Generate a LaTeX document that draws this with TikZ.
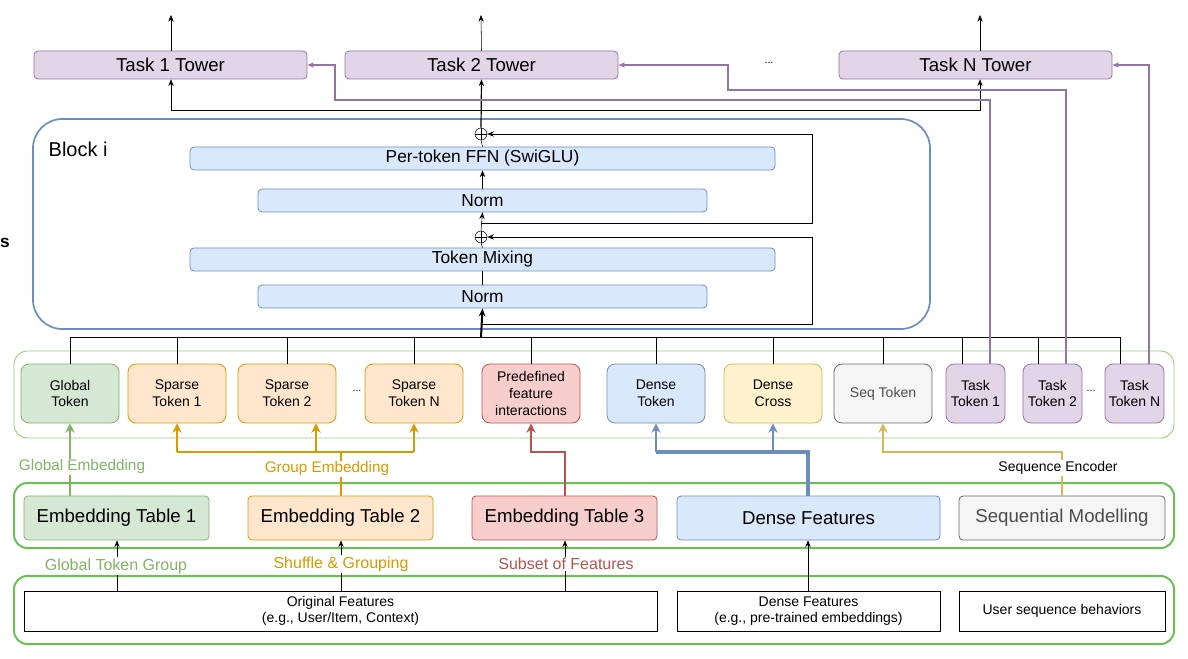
\documentclass[tikz,border=0pt]{standalone}
\usepackage{fontspec}
\setmainfont{Liberation Sans}
\usetikzlibrary{arrows.meta}
\definecolor{gF}{HTML}{D5E8D4}\definecolor{gS}{HTML}{82B366}
\definecolor{oF}{HTML}{FFE6CC}\definecolor{oS}{HTML}{D79B00}
\definecolor{rF}{HTML}{F8CECC}\definecolor{rS}{HTML}{B85450}
\definecolor{bF}{HTML}{DAE8FC}\definecolor{bS}{HTML}{6C8EBF}
\definecolor{yF}{HTML}{FFF2CC}\definecolor{yS}{HTML}{D6B656}
\definecolor{sF}{HTML}{F5F5F5}\definecolor{sS}{HTML}{666666}
\definecolor{pF}{HTML}{E1D5E7}\definecolor{pS}{HTML}{9673A6}
\definecolor{cS}{HTML}{97D077}
\tikzset{
 bx/.style={draw, rounded corners=3pt, inner sep=0pt, align=center, line width=0.6pt},
 tok/.style={bx, rounded corners=6pt, font=\fontsize{10.5}{12.5}\selectfont},
 big/.style={font=\fontsize{14}{16}\selectfont},
 mid/.style={font=\fontsize{13}{15}\selectfont},
 plain/.style={draw, inner sep=0pt, align=center, font=\fontsize{10.5}{12.5}\selectfont},
 arr/.style={-{Stealth[length=5pt,width=4pt]}},
 thk/.style={line width=2.2pt},
 tarr/.style={line width=2.2pt,-{Stealth[length=7pt,width=7pt]}},
 lbl/.style={fill=white, inner sep=1pt, font=\fontsize{11.5}{13}\selectfont},
 oplus/.style={circle, draw, inner sep=0pt, minimum size=9pt, path picture={\draw (path picture bounding box.north)--(path picture bounding box.south) (path picture bounding box.west)--(path picture bounding box.east);}},
}
\newcommand{\bxx}[7]{\pgfmathsetmacro\bxCX{(#2+#4)/2}\pgfmathsetmacro\bxCY{(#3+#5)/2}\pgfmathsetmacro\bxW{(#4-#2)*0.75}\pgfmathsetmacro\bxH{(#5-#3)*0.75}\node[#6, minimum width=\bxW pt, minimum height=\bxH pt] (#1) at (\bxCX,\bxCY) {#7};}
\begin{document}
\begin{tikzpicture}[x=0.75pt,y=-0.75pt]
\useasboundingbox (0,0) rectangle (1188,659);
% containers
\draw[cS, line width=0.7pt, rounded corners=10pt] (14,351) rectangle (1174,438);
\draw[gS!80!green, line width=1.5pt, rounded corners=10pt] (14,483) rectangle (1174,548);
\draw[gS!80!green, line width=1.5pt, rounded corners=10pt] (14,576) rectangle (1174,644);
% towers
\bxx{t1}{34}{51}{307}{79}{bx,fill=pF,draw=pS,big}{Task 1 Tower}
\bxx{t2}{345}{51}{618}{79}{bx,fill=pF,draw=pS,big}{Task 2 Tower}
\bxx{tn}{839}{51}{1112}{79}{bx,fill=pF,draw=pS,big}{Task N Tower}
\node[font=\fontsize{8}{9}\selectfont] (tdots) at (769,63) {...};
\coordinate (o1) at (171,15); \coordinate (o2) at (481,15); \coordinate (on) at (980,15);
\draw[arr] (t1.north -| o1) -- (o1);
\draw[arr] (t2.north) -- (o2);
\draw[arr] (tn.north -| on) -- (on);
% block
\draw[bS, line width=1.3pt, rounded corners=22pt] (33,119) rectangle (930,329);
\node[anchor=west, font=\fontsize{15}{17}\selectfont] (bl) at (44,149) {Block i};
\node[font=\bfseries\fontsize{13}{15}\selectfont] (s) at (5,243) {s};
\bxx{ffn}{190}{147}{775}{170}{bx,fill=bF,draw=bS,mid}{Per-token FFN (SwiGLU)}
\bxx{n2}{258}{189}{707}{212}{bx,fill=bF,draw=bS,mid}{Norm}
\bxx{tm}{190}{248}{775}{271}{bx,fill=bF,draw=bS,mid}{Token Mixing}
\bxx{n1}{258}{285}{707}{308}{bx,fill=bF,draw=bS,mid}{Norm}
\node[oplus] (p2) at (481,134) {};
\node[oplus] (p1) at (481,237) {};
\coordinate (bin) at (481,337);
\draw[line width=1.5pt,-{Stealth[length=6pt,width=5pt]}] (bin) -- (n1.south);
\draw (n1.north) -- (tm.south);
\draw (tm.north) -- (p1.south);
\draw[arr] (p1.north) -- (n2.south);
\draw[arr] (n2.north) -- (ffn.south);
\draw (ffn.north) -- (p2.south);
\draw[line width=0.9pt, arr] (p2.north) -- (t2.south);
\draw[arr] (481,324) -- (812,324) -- (812,237) -- (p1.east);
\draw[arr] (481,223) -- (812,223) -- (812,134) -- (p2.east);
\draw[arr] (481,110) -| (t1.south -| o1);
\draw[arr] (481,110) -| (tn.south -| on);
% tokens
\bxx{gt}{21}{364}{119}{423}{tok,fill=gF,draw=gS}{Global\\Token}
\bxx{s1}{128}{364}{226}{423}{tok,fill=oF,draw=oS}{Sparse\\Token 1}
\bxx{s2}{238}{364}{336}{423}{tok,fill=oF,draw=oS}{Sparse\\Token 2}
\node[font=\fontsize{8}{9}\selectfont] (sdots) at (357,391) {...};
\bxx{sn}{365}{364}{463}{423}{tok,fill=oF,draw=oS}{Sparse\\Token N}
\bxx{pf}{482}{364}{580}{423}{tok,fill=rF,draw=rS}{Predefined\\feature\\interactions}
\bxx{dt}{607}{364}{705}{423}{tok,fill=bF,draw=bS}{Dense\\Token}
\bxx{dc}{724}{364}{822}{423}{tok,fill=yF,draw=yS}{Dense\\Cross}
\bxx{sq}{834}{364}{932}{423}{tok,fill=sF,draw=sS,text=black!70}{Seq Token}
\bxx{k1}{946}{364}{1005}{423}{tok,fill=pF,draw=pS}{Task\\Token 1}
\bxx{k2}{1023}{364}{1082}{423}{tok,fill=pF,draw=pS}{Task\\Token 2}
\node[font=\fontsize{8}{9}\selectfont] (kdots) at (1091,391) {...};
\bxx{kn}{1105}{364}{1164}{423}{tok,fill=pF,draw=pS}{Task\\Token N}
% bus
\draw (70,337) -- (1120,337);
\foreach \n/\x in {gt/70,s1/177,s2/287,sn/414,pf/531,dt/656,dc/773,sq/883,k1/962,k2/1038,kn/1120}
  \draw (\x,337) -- (\n.north -| \x,0);
% purple task lines
\draw[pS, line width=1.3pt, arr] (k1.north -| 990,0) -- (990,100) -- (335,100) -- (335,65) -- (t1.east);
\draw[pS, line width=1.3pt, arr] (k2.north -| 1066,0) -- (1066,90) -- (728,90) -- (728,65) -- (t2.east);
\draw[pS, line width=1.3pt, arr] (kn.north -| 1149,0) -- (1149,65) -- (tn.east);
% embedding row
\bxx{e1}{24}{496}{209}{540}{bx,fill=gF,draw=gS,big}{Embedding Table 1}
\bxx{e2}{248}{496}{433}{540}{bx,fill=oF,draw=oS,big}{Embedding Table 2}
\bxx{e3}{472}{496}{657}{540}{bx,fill=rF,draw=rS,big}{Embedding Table 3}
\bxx{df}{677}{496}{940}{540}{bx,fill=bF,draw=bS,big}{Dense Features}
\bxx{sm}{959}{496}{1165}{540}{bx,fill=sF,draw=sS,big,text=black!70}{Sequential Modelling}
% token arrows
\draw[gS, tarr] (e1.north -| gt) -- (gt.south);
\node[gS, fill=white, inner sep=1pt, font=\fontsize{11.5}{13}\selectfont] (ge) at (82,467) {Global Embedding};
\draw[oS, thk] (e2.north -| 341,0) -- (341,452);
\draw[oS, thk] (177,452) -- (414,452);
\draw[oS, tarr] (177,452) -- (s1.south -| 177,0);
\draw[oS, tarr] (316,452) -- (s2.south -| 316,0);
\draw[oS, tarr] (414,452) -- (sn.south);
\node[oS, lbl] (gre) at (327,469) {Group Embedding};
\draw[rS, tarr] (e3.north -| 565,0) -- (565,452) -- (531,452) -- (pf.south);
\draw[bS, line width=2.6pt] (df.north -| 808,0) -- (808,452) -- (656,452);
\draw[bS, tarr] (656,452) -- (dt.south -| 656,0);
\draw[bS, tarr] (773,452) -- (dc.south -| 773,0);
\draw[yS, tarr] (sm.north -| 1062,0) -- (1062,452) -- (883,452) -- (sq.south);
\node[lbl, font=\fontsize{10.5}{12}\selectfont] (se) at (1058,468) {Sequence Encoder};
% bottom row
\bxx{of}{24}{591}{657}{631}{plain}{Original Features\\(e.g., User/Item, Context)}
\bxx{dfb}{677}{591}{940}{631}{plain}{Dense Features\\(e.g., pre-trained embeddings)}
\bxx{us}{959}{591}{1165}{631}{plain}{User sequence behaviors}
\draw[arr] (of.north -| 117,0) -- (e1.south -| 117,0);
\draw[arr] (of.north -| 341,0) -- (e2.south -| 341,0);
\draw[arr] (of.north -| 565,0) -- (e3.south -| 565,0);
\draw[arr] (dfb.north -| 808,0) -- (df.south -| 808,0);
\node[gS, lbl, font=\fontsize{12}{13}\selectfont] (l1) at (116,566) {Global Token Group};
\node[oS, lbl, font=\fontsize{12}{13}\selectfont] (l2) at (341,564) {Shuffle \& Grouping};
\node[rS, lbl, font=\fontsize{12}{13}\selectfont] (l3) at (566,564) {Subset of Features};
\end{tikzpicture}
\end{document}
